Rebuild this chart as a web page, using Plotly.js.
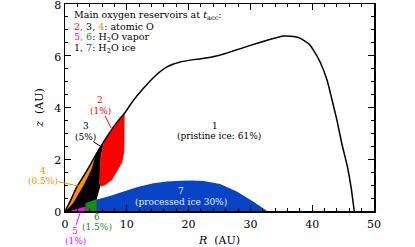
<!DOCTYPE html>
<html><head><meta charset="utf-8">
<script src="https://cdn.plot.ly/plotly-3.0.1.min.js"></script>
<style>html,body{margin:0;padding:0;background:#fff}</style>
</head><body><div id="chart" style="width:415px;height:247px"></div>
<script>
// Outer boundary of region 1 (pristine ice)
const boundaryR = [0,0.5,1.0,1.9,3.0,4.0,5.0,6.2,7.0,8.0,9.0,9.7,11.0,12.7,14.5,16.5,18.5,20.8,22.0,25.0,27.3,30.0,32.7,35.4,37.0,38.1,39.5,40.2,41.3,42.4,43.2,44.0,44.8,45.7,46.3,46.8];
const boundaryZ = [0,0.22,0.46,0.93,1.35,1.75,2.18,2.65,2.95,3.3,3.6,3.8,4.25,4.74,5.2,5.57,5.75,5.85,5.88,6.02,6.19,6.4,6.6,6.76,6.74,6.67,6.45,6.22,5.75,5.06,4.3,3.51,2.6,1.71,0.9,0.0];
// Region 3 (atomic O, black)
const r3R = [0,0.5,1.0,1.9,3.0,4.0,5.0,6.2,6.35,5.8,5.6,5.6,5.7,5.15,5.15,0];
const r3Z = [0,0.22,0.46,0.93,1.35,1.75,2.18,2.65,2.73,2.1,1.46,1.1,0.95,0.47,0,0];
// Region 4 (atomic O, orange)
const r4R = [0.2,0.5,1.0,1.9,3.0,4.0,5.05,4.3,3.3,2.4,1.3,0.5];
const r4Z = [0.08,0.22,0.46,0.93,1.35,1.75,2.2,1.62,1.12,0.74,0.3,0.1];
// Region 2 (atomic O, red)
const r2R = [6.35,7.0,8.0,9.0,9.65,9.65,9.6,9.25,8.4,7.6,6.5,5.7,5.6,5.6,5.8,6.35];
const r2Z = [2.73,2.95,3.3,3.6,3.8,3.0,2.3,1.87,1.5,1.2,1.0,0.95,1.1,1.46,2.1,2.73];
// Region 5 (H2O vapor, magenta)
const r5R = [0.8,3.3,3.3,2.5,1.5,0.8];
const r5Z = [0,0,0.17,0.12,0.05,0];
// Region 6 (H2O vapor, green)
const r6R = [3.3,5.15,5.15,4.3,3.3];
const r6Z = [0,0,0.46,0.4,0.3];
// Region 7 (processed ice, blue)
const r7R = [5.15,5.15,7,8.9,11.6,14.3,16.5,18.6,20.5,22.4,25.1,27.8,30.5,32.7];
const r7Z = [0,0.44,0.56,0.7,0.92,1.07,1.14,1.17,1.18,1.16,1.04,0.75,0.36,0];

const xTicks = [0,10,20,30,40,50];
const yTicks = [0,2,4,6,8];

const C = {red:'#ff0000', orange:'#ff8c00', magenta:'#ff00ff', green:'#178a17', blue:'#0a44c6', black:'#000000'};
const F = 'DejaVu Serif, serif';

function poly(R, Z, col){
  return {x:R, y:Z, type:'scatter', mode:'lines', fill:'toself', fillcolor:col,
          line:{width:0, color:col}, hoverinfo:'skip', showlegend:false};
}
const data = [
  poly(r3R, r3Z, C.black),
  poly(r4R, r4Z, C.orange),
  poly(r2R, r2Z, C.red),
  poly(r6R, r6Z, C.green),
  poly(r5R, r5Z, C.magenta),
  poly(r7R, r7Z, C.blue),
  {x:boundaryR, y:boundaryZ, type:'scatter', mode:'lines', line:{color:'#000', width:1.5, shape:'spline', smoothing:0.5}, hoverinfo:'skip', showlegend:false}
];

// pixel -> paper helpers for annotation placement
const px = x => (x-65)/308.5, py = y => (211-y)/207;
function ann(text, x, y, col, opts){
  return Object.assign({text:text, xref:'paper', yref:'paper', x:px(x), y:py(y), showarrow:false,
    font:{family:F, size:9, color:col}, xanchor:'center', yanchor:'middle'}, opts||{});
}
const legFont = c => ({family:F, size:9.5, color:c});
const annotations = [
  ann('Main oxygen reservoirs at <i>t</i><sub>acc</sub>:', 72, 15.5, '#000', {xanchor:'left', font:legFont('#000')}),
  ann('<span style="color:'+C.red+'">2,</span> 3, <span style="color:'+C.orange+'">4</span>: atomic O', 72, 26, '#000', {xanchor:'left', font:legFont('#000')}),
  ann('<span style="color:'+C.magenta+'">5,</span> <span style="color:'+C.green+'">6</span>: H<sub>2</sub>O vapor', 72, 37.5, '#000', {xanchor:'left', font:legFont('#000')}),
  ann('1, <span style="color:'+C.blue+'">7</span>: H<sub>2</sub>O ice', 72, 49, '#000', {xanchor:'left', font:legFont('#000')}),
  ann('2', 100, 100.5, C.red), ann('(1%)', 100, 110.5, C.red),
  ann('3', 86, 126, '#000'), ann('(5%)', 85, 136.5, '#000'),
  ann('4', 43, 171, C.orange), ann('(0.5%)', 43, 180.5, C.orange),
  ann('5', 75, 230.5, C.magenta), ann('(1%)', 75, 240.5, C.magenta),
  ann('6', 97.3, 217.5, C.green), ann('(1.5%)', 97.3, 227, C.green),
  ann('7', 180.7, 191, '#e8e8f0'), ann('(processed ice 30%)', 180.7, 201.7, '#e8e8f0'),
  ann('1', 215, 126, '#000'), ann('(pristine ice: 61%)', 218.3, 135.5, '#000')
];
function seg(x0,y0,x1,y1,col){
  return {type:'line', xref:'paper', yref:'paper', x0:px(x0), y0:py(y0), x1:px(x1), y1:py(y1), line:{color:col, width:1}, layer:'above'};
}
const shapes = [
  seg(105,116,111,128,C.red),
  seg(93.3,141.7,100,146,'#000'),
  seg(58.3,181.7,78.3,186,C.orange),
  seg(76,225,80,213.3,C.magenta),
  seg(96.5,212,97,214.5,C.green)
];

const axisCommon = {showline:true, linecolor:'#000', linewidth:1.5, mirror:'ticks', ticks:'inside', ticklen:6, tickwidth:1, tickcolor:'#000',
  showgrid:false, zeroline:false, ticklabeloverflow:'allow', tickfont:{family:F, size:11, color:'#000'}};

const layout = {
  width:415, height:247, margin:{l:65, r:41, t:4, b:36}, paper_bgcolor:'#fff', plot_bgcolor:'#fff', showlegend:false,
  xaxis:Object.assign({}, axisCommon, {range:[0,50], tickvals:xTicks, ticktext:xTicks.map(String), ticklabelstandoff:2,
    minor:{dtick:2, ticklen:3, ticks:'inside', tickcolor:'#000'},
    title:{text:'<i>R</i>  (AU)', font:{family:F, size:11, color:'#000'}, standoff:6}}),
  yaxis:Object.assign({}, axisCommon, {range:[0,8], tickvals:yTicks, ticktext:yTicks.map(String), ticklabelshift:1,
    minor:{dtick:0.5, ticklen:3, ticks:'inside', tickcolor:'#000'},
    title:{text:'<i>z</i>  (AU)', font:{family:F, size:11, color:'#000'}, standoff:8}}),
  annotations:annotations, shapes:shapes
};
Plotly.newPlot('chart', data, layout, {staticPlot:true, displayModeBar:false});
</script></body></html>
